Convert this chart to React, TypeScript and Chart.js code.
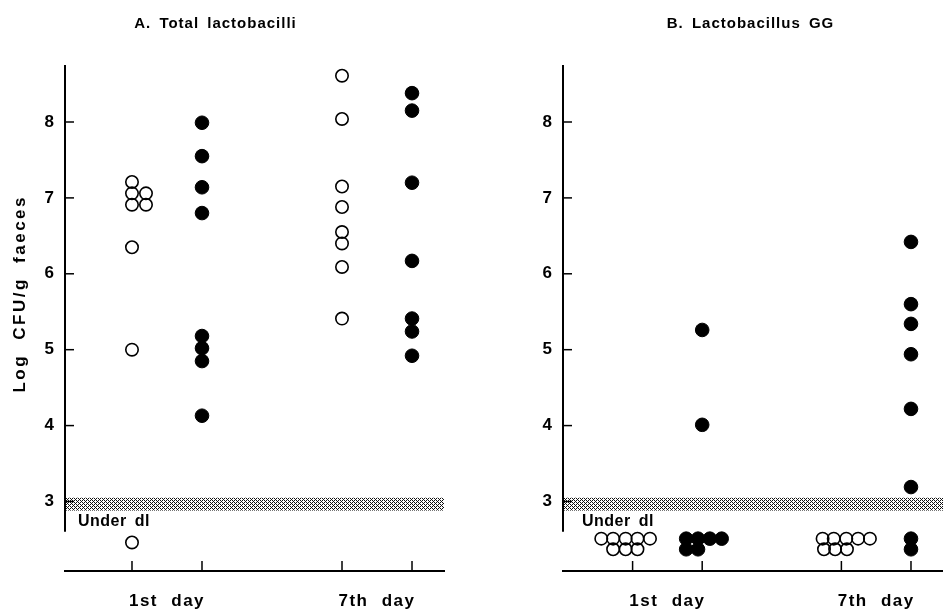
import React, { useEffect, useRef } from 'react';
import { Chart, registerables } from 'chart.js';

Chart.register(...registerables);

const FONT = '"Liberation Sans", Arial, Helvetica, sans-serif';

// ---- shared axis data ----
const yTickValues = [3, 4, 5, 6, 7, 8];
const groupPositions = [1, 2, 4, 5];
const dayLabelPositions = [1.5, 4.5];
const dayLabels = ['1st day', '7th day'];
const yAxisTitle = 'Log CFU/g faeces';
const belowLimitLabel = 'Under dl';
const belowLimitLabelValue = 2.73;
const detectionBand = [2.88, 3.05];
const yAxisExtent = [2.6, 8.75];
const yRange = [2.084, 8.751];

// ---- panel A: total lactobacilli ----
const titleA = 'A. Total lactobacilli';
const aDay1OpenY = [7.21, 7.06, 7.06, 6.91, 6.91, 6.35, 5.0, 2.46];
const aDay1OpenX = [1, 1, 1.2, 1, 1.2, 1, 1, 1];
const aDay1FilledY = [7.99, 7.55, 7.14, 6.8, 5.18, 5.02, 4.85, 4.13];
const aDay7OpenY = [8.61, 8.04, 7.15, 6.88, 6.55, 6.4, 6.09, 5.41];
const aDay7FilledY = [8.38, 8.15, 7.2, 6.17, 5.41, 5.24, 4.92];

// ---- panel B: Lactobacillus GG ----
const titleB = 'B. Lactobacillus GG';
const bDay1OpenY = [2.51, 2.51, 2.51, 2.51, 2.51, 2.37, 2.37, 2.37];
const bDay1OpenX = [0.55, 0.72, 0.9, 1.07, 1.25, 0.72, 0.9, 1.07];
const bDay1FilledY = [5.26, 4.01, 2.51, 2.51, 2.51, 2.51, 2.37, 2.37];
const bDay1FilledX = [2, 2, 1.77, 1.94, 2.11, 2.28, 1.77, 1.94];
const bDay7OpenY = [2.51, 2.51, 2.51, 2.51, 2.51, 2.37, 2.37, 2.37];
const bDay7OpenX = [3.73, 3.89, 4.07, 4.24, 4.41, 3.75, 3.91, 4.08];
const bDay7FilledY = [6.42, 5.6, 5.34, 4.94, 4.22, 3.19, 2.51, 2.37];

type Group = { y: number[]; x?: number[]; pos: number; filled: boolean };

type PanelCfg = {
  key: string;
  left: number;
  width: number;
  yAxisWidth: number;
  padRight: number;
  xMin: number;
  xMax: number;
  title: string;
  titleX: number;
  underDlOffset: number;
  showYTitle: boolean;
  groups: Group[];
};

const panels: PanelCfg[] = [
  {
    key: 'A',
    left: 0,
    width: 470,
    yAxisWidth: 65,
    padRight: 26,
    xMin: 0.043,
    xMax: 5.457,
    title: titleA,
    titleX: 215,
    underDlOffset: 13,
    showYTitle: true,
    groups: [
      { y: aDay1OpenY, x: aDay1OpenX, pos: groupPositions[0], filled: false },
      { y: aDay1FilledY, pos: groupPositions[1], filled: true },
      { y: aDay7OpenY, pos: groupPositions[2], filled: false },
      { y: aDay7FilledY, pos: groupPositions[3], filled: true },
    ],
  },
  {
    key: 'B',
    left: 470,
    width: 473,
    yAxisWidth: 93,
    padRight: 0,
    xMin: 0,
    xMax: 5.46,
    title: titleB,
    titleX: 280,
    underDlOffset: 19,
    showYTitle: false,
    groups: [
      { y: bDay1OpenY, x: bDay1OpenX, pos: groupPositions[0], filled: false },
      { y: bDay1FilledY, x: bDay1FilledX, pos: groupPositions[1], filled: true },
      { y: bDay7OpenY, x: bDay7OpenX, pos: groupPositions[2], filled: false },
      { y: bDay7FilledY, pos: groupPositions[3], filled: true },
    ],
  },
];

function makeDecor(cfg: PanelCfg) {
  let pattern: CanvasPattern | null = null;
  return {
    id: 'decor' + cfg.key,
    beforeDraw(chart: any) {
      const ctx = chart.ctx as any;
      ctx.letterSpacing = '1.5px';
      ctx.wordSpacing = '7px';
    },
    beforeDatasetsDraw(chart: any) {
      const ctx = chart.ctx as any;
      ctx.letterSpacing = '0px';
      ctx.wordSpacing = '0px';
      const { left, right, bottom } = chart.chartArea;
      const xs = chart.scales.x;
      const ys = chart.scales.y;
      if (!pattern) {
        const c = document.createElement('canvas');
        c.width = 4;
        c.height = 4;
        const p = c.getContext('2d')!;
        p.fillStyle = '#111';
        [[0, 0], [2, 0], [1, 1], [0, 2], [2, 2], [3, 3]].forEach(([px, py]) => p.fillRect(px, py, 1, 1));
        pattern = ctx.createPattern(c, 'repeat');
      }
      ctx.save();
      // detection-limit band
      const bTop = ys.getPixelForValue(detectionBand[1]);
      const bBot = ys.getPixelForValue(detectionBand[0]);
      ctx.fillStyle = pattern;
      ctx.fillRect(left, bTop, right - left, bBot - bTop);
      // y axis line
      ctx.strokeStyle = '#000';
      ctx.lineWidth = 2;
      ctx.beginPath();
      ctx.moveTo(left, ys.getPixelForValue(yAxisExtent[1]));
      ctx.lineTo(left, ys.getPixelForValue(yAxisExtent[0]));
      ctx.stroke();
      // inward y tick marks
      ctx.lineWidth = 1.5;
      yTickValues.forEach((v) => {
        const py = ys.getPixelForValue(v);
        ctx.beginPath();
        ctx.moveTo(left, py);
        ctx.lineTo(left + 9, py);
        ctx.stroke();
      });
      // upward x tick marks
      groupPositions.forEach((v) => {
        const px = xs.getPixelForValue(v);
        ctx.beginPath();
        ctx.moveTo(px, bottom);
        ctx.lineTo(px, bottom - 10);
        ctx.stroke();
      });
      // under detection limit label
      ctx.fillStyle = '#000';
      ctx.font = `bold 16px ${FONT}`;
      ctx.letterSpacing = '0.5px';
      ctx.wordSpacing = '3px';
      ctx.textAlign = 'left';
      ctx.textBaseline = 'middle';
      ctx.fillText(belowLimitLabel, left + cfg.underDlOffset, ys.getPixelForValue(belowLimitLabelValue));
      ctx.restore();
    },
    afterDraw(chart: any) {
      const ctx = chart.ctx as any;
      ctx.save();
      ctx.fillStyle = '#000';
      ctx.font = `bold 15px ${FONT}`;
      ctx.letterSpacing = '1px';
      ctx.wordSpacing = '3px';
      ctx.textAlign = 'center';
      ctx.textBaseline = 'middle';
      ctx.fillText(cfg.title, cfg.titleX + 0.5, 24);
      ctx.restore();
      if (cfg.showYTitle) {
        ctx.save();
        ctx.fillStyle = '#000';
        ctx.font = `bold 17px ${FONT}`;
        ctx.letterSpacing = '2.5px';
        ctx.wordSpacing = '7px';
        ctx.textAlign = 'center';
        ctx.textBaseline = 'middle';
        ctx.translate(20, 295);
        ctx.rotate(-Math.PI / 2);
        ctx.fillText(yAxisTitle, 1.2, 0);
        ctx.restore();
      }
    },
  };
}

function buildConfig(cfg: PanelCfg): any {
  const datasets = cfg.groups.map((g) => ({
    data: g.y.map((v, i) => ({ x: g.x ? g.x[i] : g.pos, y: v })),
    pointRadius: g.filled ? 6.8 : 6.2,
    pointHoverRadius: g.filled ? 6.8 : 6.2,
    pointBackgroundColor: g.filled ? '#000' : 'rgba(255,255,255,0)',
    pointBorderColor: '#000',
    pointBorderWidth: g.filled ? 1 : 1.6,
    showLine: false,
  }));
  return {
    type: 'scatter',
    data: { datasets },
    plugins: [makeDecor(cfg)],
    options: {
      animation: false,
      responsive: false,
      events: [],
      layout: { autoPadding: false, padding: { top: 65, right: cfg.padRight, left: 0, bottom: 0 } },
      plugins: {
        legend: { display: false },
        tooltip: { enabled: false },
        title: { display: false },
      },
      scales: {
        x: {
          type: 'linear',
          position: 'bottom',
          min: cfg.xMin,
          max: cfg.xMax,
          grid: { display: false, drawTicks: false },
          border: { display: true, color: '#000', width: 2 },
          ticks: {
            z: 0,
            padding: 20,
            color: '#000',
            autoSkip: false,
            maxRotation: 0,
            font: { family: FONT, size: 17, weight: 'bold' },
            callback: (_v: number, i: number) => dayLabels[i],
          },
          afterBuildTicks: (s: any) => {
            s.ticks = dayLabelPositions.map((v) => ({ value: v }));
          },
          afterFit: (s: any) => {
            s.height = 38;
          },
        },
        y: {
          type: 'linear',
          position: 'left',
          min: yRange[0],
          max: yRange[1],
          grid: { display: false, drawTicks: false },
          border: { display: false },
          ticks: {
            z: 1,
            padding: 11,
            color: '#000',
            font: { family: FONT, size: 17, weight: 'bold' },
            callback: (v: number) => String(v),
          },
          afterBuildTicks: (s: any) => {
            s.ticks = yTickValues.map((v) => ({ value: v }));
          },
          afterFit: (s: any) => {
            s.width = cfg.yAxisWidth;
          },
        },
      },
    },
  };
}

function Panel({ cfg }: { cfg: PanelCfg }) {
  const ref = useRef<HTMLCanvasElement | null>(null);
  useEffect(() => {
    if (!ref.current) return;
    const chart = new Chart(ref.current, buildConfig(cfg));
    return () => chart.destroy();
  }, [cfg]);
  return (
    <canvas
      ref={ref}
      width={cfg.width}
      height={609}
      style={{ position: 'absolute', left: cfg.left, top: 0, width: cfg.width, height: 609, display: 'block' }}
    />
  );
}

export default function App() {
  return (
    <div style={{ position: 'absolute', left: 0, top: 0, width: 943, height: 609, background: '#fff', overflow: 'hidden' }}>
      {panels.map((p) => (
        <Panel key={p.key} cfg={p} />
      ))}
    </div>
  );
}
